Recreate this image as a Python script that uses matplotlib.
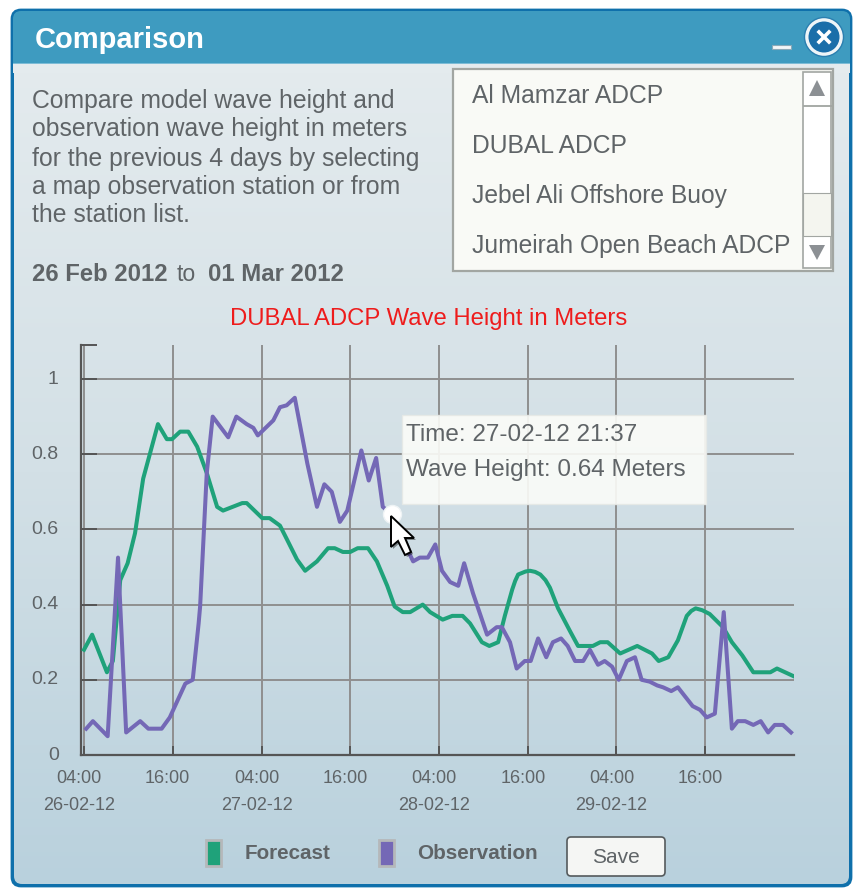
import numpy as np
import matplotlib
matplotlib.use('Agg')
import matplotlib.pyplot as plt
from matplotlib.colors import LinearSegmentedColormap
from matplotlib.patches import FancyBboxPatch, Rectangle, Polygon, Circle
from matplotlib.transforms import ScaledTranslation

plt.rcParams['font.family'] = ['Liberation Sans', 'DejaVu Sans']

# hours after 26-02-12 04:00
forecast_hours = [0, 1.1, 3.1, 3.9, 4.9, 5.9, 6.9, 8, 10, 11.2, 11.9, 13, 14.1, 15.3, 16.6, 18, 18.8, 20.1, 21.4, 22,
                  24.1, 25.1, 26.5, 27.4, 28.8, 29.9, 31.5, 33, 33.9, 35, 36, 37, 38.4, 39.6, 41, 42, 43.1, 44.1, 45.8,
                  46.8, 48.5, 49.8, 51.2, 52.2, 53.8, 54.8, 56, 56.9, 57.9, 58.3, 58.7, 59.7, 60.3, 61, 61.7, 62.4, 63,
                  64.1, 65.7, 66.8, 68.8, 69.8, 70.8, 72.5, 74.8, 76.8, 77.7, 79, 80.3, 81.5, 82.1, 82.7, 83.6, 84.6,
                  86.4, 87.6, 89, 90.5, 92.8, 93.7, 95.9]
forecast = [0.28, 0.32, 0.22, 0.25, 0.465, 0.51, 0.59, 0.735, 0.88, 0.84, 0.84, 0.86, 0.86, 0.82, 0.75, 0.66, 0.65, 0.66,
            0.67, 0.67, 0.63, 0.63, 0.61, 0.575, 0.52, 0.49, 0.515, 0.55, 0.55, 0.54, 0.54, 0.55, 0.55, 0.515, 0.45,
            0.395, 0.38, 0.38, 0.40, 0.38, 0.36, 0.37, 0.37, 0.35, 0.30, 0.29, 0.30, 0.37, 0.44, 0.463, 0.48, 0.488,
            0.49, 0.487, 0.48, 0.465, 0.445, 0.39, 0.33, 0.29, 0.29, 0.30, 0.30, 0.27, 0.29, 0.27, 0.25, 0.26, 0.305,
            0.37, 0.383, 0.39, 0.385, 0.375, 0.34, 0.30, 0.265, 0.22, 0.22, 0.23, 0.21]

observation_hours = [0.3, 1.2, 3.2, 4.6, 5.7, 7.6, 8.7, 10.5, 11.6, 13.7, 14.7, 15.5, 15.7, 16.6, 17.4, 19.5, 20.6, 22,
                     22.9, 23.5, 25.6, 26.5, 27.4, 28.5, 30.2, 31.5, 32.5, 33.5, 34.6, 35.6, 37.5, 38.5, 39.5, 40.4,
                     41.6, 42.5, 43.4, 44.5, 45.4, 46.5, 47.5, 48.4, 49.5, 50.6, 51.4, 52.6, 54.5, 55.8, 56.5, 57.6,
                     58.5, 59.6, 60.4, 61.4, 62.5, 63.4, 64.5, 65.4, 66.4, 67.5, 68.4, 69.5, 70.4, 71.4, 72.3, 73.4,
                     74.5, 75.4, 76.5, 77.5, 78.3, 79.4, 80.3, 81.5, 82.3, 83.3, 84.2, 85.3, 86.5, 87.6, 88.4, 89.4,
                     90.5, 91.5, 92.5, 93.4, 94.5, 95.6]
observation = [0.07, 0.09, 0.05, 0.525, 0.06, 0.09, 0.07, 0.07, 0.10, 0.19, 0.20, 0.35, 0.395, 0.75, 0.90, 0.845, 0.90,
               0.88, 0.87, 0.85, 0.89, 0.925, 0.93, 0.95, 0.775, 0.66, 0.72, 0.70, 0.62, 0.65, 0.81, 0.73, 0.79, 0.66,
               0.64, 0.60, 0.56, 0.515, 0.525, 0.525, 0.56, 0.49, 0.46, 0.45, 0.51, 0.43, 0.32, 0.34, 0.34, 0.30, 0.23,
               0.25, 0.25, 0.31, 0.26, 0.30, 0.31, 0.29, 0.25, 0.25, 0.28, 0.24, 0.25, 0.235, 0.20, 0.25, 0.26, 0.20,
               0.195, 0.185, 0.18, 0.17, 0.18, 0.15, 0.13, 0.12, 0.10, 0.11, 0.38, 0.07, 0.09, 0.09, 0.08, 0.09, 0.06,
               0.08, 0.08, 0.06]

hover_hour = 41.6
hover_value = 0.64

x_ticks = [0, 12, 24, 36, 48, 60, 72, 84]
x_labels = ['04:00\n26-02-12', '16:00', '04:00\n27-02-12', '16:00', '04:00\n28-02-12', '16:00', '04:00\n29-02-12', '16:00']
y_ticks = [0, 0.2, 0.4, 0.6, 0.8, 1]
y_labels = ['0', '0.2', '0.4', '0.6', '0.8', '1']

stations = ['Al Mamzar ADCP', 'DUBAL ADCP', 'Jebel Ali Offshore Buoy', 'Jumeirah Open Beach ADCP']
intro = ['Compare model wave height and', 'observation wave height in meters', 'for the previous 4 days by selecting',
         'a map observation station or from', 'the station list.']

GREEN = '#1fa27a'
PURPLE = '#7468b6'
TEXT = '#5f6467'

W, H = 856, 888
fig = plt.figure(figsize=(W / 100, H / 100), dpi=100)

# window background, in pixels
bg = fig.add_axes([0, 0, 1, 1], zorder=0)
bg.set_xlim(0, W)
bg.set_ylim(H, 0)
bg.axis('off')

outer = FancyBboxPatch((12, 10), 839, 876, boxstyle='round,pad=0,rounding_size=9', fc='#0f70ab', ec='#0f70ab', lw=2)
bg.add_patch(outer)
cmap = LinearSegmentedColormap.from_list('panel', ['#e4ebee', '#d3e0e6', '#b9d1dd'])
grad = bg.imshow(np.linspace(0, 1, 200).reshape(-1, 1), extent=(14, 849, 885, 60), aspect='auto', cmap=cmap, zorder=1)
grad.set_clip_path(FancyBboxPatch((14, 11), 835, 873, boxstyle='round,pad=0,rounding_size=8', transform=bg.transData))
bg.set_xlim(0, W)
bg.set_ylim(H, 0)
head = FancyBboxPatch((13, 11), 837, 60, boxstyle='round,pad=0,rounding_size=8', fc='#3e9bc0', ec='none', zorder=2)
bg.add_patch(head)
bg.add_patch(Rectangle((13, 63), 837, 10, fc='#e4ebee', ec='none', zorder=2))
bg.add_patch(Rectangle((13, 63), 837, 1.5, fc='#7dbcd6', ec='none', zorder=3))
bg.text(35, 40, 'Comparison', color='white', fontsize=21, fontweight='bold', va='center', zorder=4)

# minimise and close buttons
bg.add_patch(Rectangle((772, 45), 19, 4, fc='#f2f6f8', ec='#8aa9b8', lw=0.8, zorder=4))
bg.add_patch(Circle((824, 37), 19.5, fc='#eef5f8', ec='#2a7fb0', lw=1, zorder=4))
bg.add_patch(Circle((824, 37), 15.5, fc='#1a6ea9', ec='none', zorder=5))
bg.plot([819, 829], [32, 42], color='white', lw=2.6, zorder=6)
bg.plot([819, 829], [42, 32], color='white', lw=2.6, zorder=6)

# intro text
for i, line in enumerate(intro):
    bg.text(32, [101, 129, 159, 187, 215][i], line, color=TEXT, fontsize=17.8, va='center', zorder=4)
bg.text(32, 274, '26 Feb 2012', color=TEXT, fontsize=17.2, fontweight='bold', va='center', zorder=4)
bg.text(177, 274, 'to', color=TEXT, fontsize=16.6, va='center', zorder=4)
bg.text(208, 274, '01 Mar 2012', color=TEXT, fontsize=17.2, fontweight='bold', va='center', zorder=4)

# station list
bg.add_patch(Rectangle((453, 69), 380, 202, fc='#f9faf6', ec='#a2a6a2', lw=1.6, zorder=4))
for i, name in enumerate(stations):
    bg.text(472, 96 + i * 50, name, color=TEXT, fontsize=17.7, va='center', zorder=5)
bg.add_patch(Rectangle((803, 72), 28, 196, fc='white', ec='#a2a6a2', lw=1.2, zorder=5))
bg.add_patch(Rectangle((803, 105), 28, 1, fc='#a2a6a2', ec='#a2a6a2', lw=0.6, zorder=6))
bg.add_patch(Rectangle((803, 193), 28, 43, fc='#f4f5ef', ec='#a2a6a2', lw=0.8, zorder=6))
bg.add_patch(Polygon([[817, 80], [809, 96], [825, 96]], fc='#8c9094', ec='none', zorder=7))
bg.add_patch(Polygon([[817, 260], [809, 245], [825, 245]], fc='#8c9094', ec='none', zorder=7))

bg.text(429, 319, 'DUBAL ADCP Wave Height in Meters', color='#ee1c1c', fontsize=17.2, ha='center', va='center', zorder=4)

# legend and save button
bg.add_patch(Rectangle((206, 840), 15, 26, fc=GREEN, ec='#b5b8ba', lw=2, zorder=4))
bg.text(245, 853, 'Forecast', color=TEXT, fontsize=14.9, fontweight='bold', va='center', zorder=4)
bg.add_patch(Rectangle((379, 840), 15, 26, fc=PURPLE, ec='#b5b8ba', lw=2, zorder=4))
bg.text(417, 853, 'Observation', color=TEXT, fontsize=14.9, fontweight='bold', va='center', zorder=4)
bg.add_patch(FancyBboxPatch((567, 837), 98, 39, boxstyle='round,pad=0,rounding_size=4', fc='#f5f6f4', ec='#555a5c', lw=1.2, zorder=4))
bg.text(616, 857, 'Save', color=TEXT, fontsize=15, ha='center', va='center', zorder=5)

# chart, the y axis line sits a little left of the first grid line
px_per_hour = (794 - 84) / 96
x_left = -(84 - 81) / px_per_hour
y_top = (755 - 345) / 376
ax = fig.add_axes([81 / W, 1 - 755 / H, (794 - 81) / W, (755 - 345) / H], zorder=1)
ax.patch.set_alpha(0)
ax.set_xlim(x_left, 96)
ax.set_ylim(0, y_top)

ax.plot(forecast_hours, forecast, color=GREEN, lw=2.9, solid_joinstyle='round', zorder=3)
ax.plot(observation_hours, observation, color=PURPLE, lw=2.9, solid_joinstyle='round', zorder=4)
ax.plot([hover_hour], [hover_value], 'o', ms=13, mfc='white', mec='#eef3f5', mew=1, zorder=5)

ax.set_xticks(x_ticks)
ax.set_xticklabels(x_labels, fontsize=13, color=TEXT, linespacing=1.8, va='top')
ax.set_yticks(y_ticks)
ax.set_yticklabels(y_labels, fontsize=14, color=TEXT)
ax.set_yticks([y_top], minor=True)
ax.grid(True, color='#8f8f8f', lw=1.4, which='major')
ax.set_axisbelow(True)
ax.tick_params(axis='x', direction='in', length=6.5, width=1.4, color='#555555', pad=10.5)
ax.tick_params(axis='y', direction='in', length=11.5, width=1.4, color='#555555', pad=16)
ax.tick_params(axis='y', which='minor', direction='in', length=11.5, width=1.4, color='#555555')
for s in ['top', 'right']:
    ax.spines[s].set_visible(False)
for s in ['left', 'bottom']:
    ax.spines[s].set_color('#555555')
    ax.spines[s].set_linewidth(1.6)
shift = ScaledTranslation(-5 / 100, 0, fig.dpi_scale_trans)
for lab in ax.get_xticklabels():
    lab.set_transform(lab.get_transform() + shift)
shift_y = ScaledTranslation(0, 2 / 100, fig.dpi_scale_trans)
for lab in ax.get_yticklabels():
    lab.set_transform(lab.get_transform() + shift_y)

# tooltip and mouse pointer on top of the chart
fg = fig.add_axes([0, 0, 1, 1], zorder=2)
fg.set_xlim(0, W)
fg.set_ylim(H, 0)
fg.axis('off')
fg.patch.set_alpha(0)
fg.add_patch(Rectangle((402, 415), 304, 89, fc='#fbfcf8', ec='#e6e9e6', lw=1, alpha=0.9))
fg.text(406, 435, 'Time: 27-02-12 21:37', color=TEXT, fontsize=17.5, va='center')
fg.text(406, 470, 'Wave Height: 0.64 Meters', color=TEXT, fontsize=17.5, va='center')
arrow = [[391, 516], [391, 547], [398, 541], [405, 555], [411, 552], [405, 538], [414, 538]]
fg.add_patch(Polygon([[x + 2, y + 2] for x, y in arrow], fc='black', ec='none', alpha=0.4))
fg.add_patch(Polygon(arrow, fc='white', ec='black', lw=1.4))

fig.savefig('out.png', dpi=100, facecolor='white')
